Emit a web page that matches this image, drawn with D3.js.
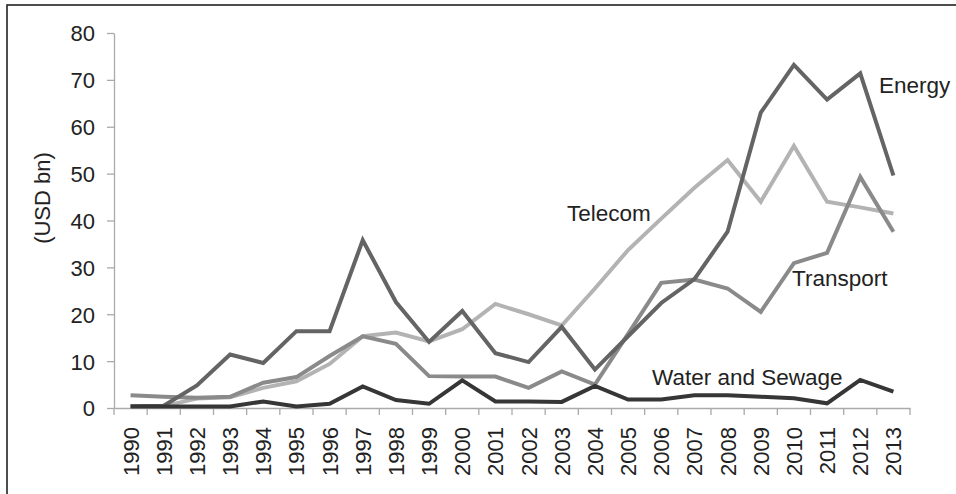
<!DOCTYPE html>
<html>
<head>
<script src="https://d3js.org/d3.v7.min.js"></script>
<style>
  body { margin: 0; background: #fff; }
  text { font-family: "Liberation Sans", Arial, sans-serif; fill: #222; }
</style>
</head>
<body>
<div id="container"></div>
<script>
var years = ["1990","1991","1992","1993","1994","1995","1996","1997","1998","1999","2000","2001",
             "2002","2003","2004","2005","2006","2007","2008","2009","2010","2011","2012","2013"];
var energy    = [0.4,0.5,4.8,11.4,9.6,16.4,16.4,35.8,22.6,14.1,20.7,11.7,9.8,17.3,8.2,15.3,22.4,27.5,37.6,63,73.2,65.8,71.4,49.6];
var telecom   = [0.3,0.4,2.0,2.3,4.3,5.7,9.4,15.3,16.1,14.2,16.8,22.2,20.0,17.6,25.5,33.7,40.4,47,52.9,44,55.9,44,42.8,41.5];
var transport = [2.7,2.4,2.2,2.4,5.4,6.6,11.1,15.3,13.7,6.8,6.7,6.7,4.3,7.8,5.0,15.8,26.7,27.4,25.5,20.5,30.9,33.1,49.3,37.6];
var water     = [0.3,0.3,0.3,0.3,1.4,0.3,0.9,4.6,1.7,0.9,5.9,1.4,1.4,1.3,4.7,1.8,1.8,2.7,2.7,2.4,2.1,1.0,6.0,3.5];
var yTicks = [0,10,20,30,40,50,60,70,80];

var series = [
  {name: "Telecom",          values: telecom,   color: "#b3b3b3", lx: 567, ly: 221},
  {name: "Transport",        values: transport, color: "#8a8a8a", lx: 792, ly: 286},
  {name: "Energy",           values: energy,    color: "#646464", lx: 879, ly: 93},
  {name: "Water and Sewage", values: water,     color: "#363636", lx: 652, ly: 385}
];

var width = 956, height = 494;
var mLeft = 114, mRight = 910, mTop = 33, mBottom = 408;

var svg = d3.select("#container").append("svg")
  .attr("width", width)
  .attr("height", height);

// frame
svg.append("rect")
  .attr("x", 7).attr("y", 5)
  .attr("width", 980).attr("height", 520)
  .attr("fill", "none")
  .attr("stroke", "#222")
  .attr("stroke-width", 1.6);

var x = d3.scaleBand().domain(years).range([mLeft, mRight]).padding(0);
var y = d3.scaleLinear().domain([0, 80]).range([mBottom, mTop]);

// y axis
var yAxis = svg.append("g")
  .attr("transform", "translate(" + mLeft + ",0)")
  .call(d3.axisLeft(y).tickValues(yTicks).tickSize(7).tickPadding(12).tickSizeOuter(0));
yAxis.selectAll("path, line").attr("stroke", "#aaa").attr("stroke-width", 1.3);
yAxis.selectAll("text").style("font-size", "22px").attr("fill", "#222").attr("dy", "0.36em");

// x axis: labels from band centres, ticks on band edges
var xAxis = svg.append("g")
  .attr("transform", "translate(0," + mBottom + ")")
  .call(d3.axisBottom(x).tickSize(0).tickSizeOuter(0));
xAxis.select(".domain").attr("stroke", "#aaa").attr("stroke-width", 1.3);
xAxis.selectAll("text")
  .style("font-size", "22px")
  .attr("fill", "#222")
  .attr("y", 0)
  .attr("x", 0)
  .attr("dy", "0.36em")
  .attr("text-anchor", "end")
  .attr("transform", "translate(0,19) rotate(-90)");

var edges = years.map(function(d) { return x(d); }).concat([x.range()[1]]);
xAxis.selectAll(".edge")
  .data(edges)
  .enter().append("line")
  .attr("class", "edge")
  .attr("x1", function(d) { return d; })
  .attr("x2", function(d) { return d; })
  .attr("y1", 0).attr("y2", 7)
  .attr("stroke", "#aaa")
  .attr("stroke-width", 1.3);

// axis title
svg.append("text")
  .attr("transform", "translate(42," + 198 + ") rotate(-90)")
  .attr("text-anchor", "middle")
  .attr("dy", "0.36em")
  .style("font-size", "22px")
  .text("(USD bn)");

// lines
var line = d3.line()
  .x(function(d, i) { return x(years[i]) + x.bandwidth() / 2; })
  .y(function(d) { return y(d); });

svg.selectAll(".series")
  .data(series)
  .enter().append("path")
  .attr("class", "series")
  .attr("d", function(s) { return line(s.values); })
  .attr("fill", "none")
  .attr("stroke", function(s) { return s.color; })
  .attr("stroke-width", 4);

svg.selectAll(".lbl")
  .data(series)
  .enter().append("text")
  .attr("class", "lbl")
  .attr("x", function(s) { return s.lx; })
  .attr("y", function(s) { return s.ly; })
  .style("font-size", "22.5px")
  .text(function(s) { return s.name; });
</script>
</body>
</html>
